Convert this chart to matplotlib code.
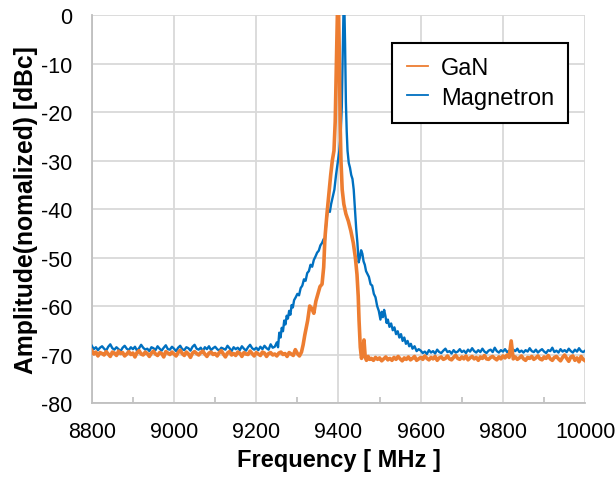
import numpy as np
import matplotlib
matplotlib.use("Agg")
import matplotlib.pyplot as plt
from matplotlib.ticker import MultipleLocator

plt.rcParams['font.family'] = ['Liberation Sans', 'DejaVu Sans']
plt.rcParams['axes.unicode_minus'] = False

# ---------------- data ----------------
# GaN: left noise floor (8800..9305 step 5)
gan_left_f = list(range(8800, 9310, 5))
gan_left_v = [-69.2, -69.9, -69.5, -70.3, -69.6, -69.8, -70.1, -69.4, -69.9, -70.4,
              -69.5, -69.7, -70.2, -69.3, -69.8, -69.6, -70.3, -69.9, -69.4, -70.0,
              -69.7, -70.5, -69.6, -69.2, -69.9, -70.1, -69.5, -69.8, -70.4, -69.7,
              -69.3, -69.9, -70.2, -69.6, -69.8, -70.5, -69.4, -69.7, -70.0, -69.5,
              -69.9, -70.3, -69.6, -69.1, -69.8, -70.2, -69.5, -69.9, -70.6, -69.7,
              -69.4, -69.8, -70.1, -69.6, -69.3, -69.9, -70.4, -69.7, -69.5, -70.0,
              -69.8, -70.3, -69.6, -69.2, -69.9, -70.5, -69.7, -69.4, -70.1, -69.8,
              -70.2, -69.5, -69.7, -70.4, -69.6, -69.9, -70.0, -69.3, -69.8, -70.3,
              -69.6, -69.9, -70.2, -69.5, -69.7, -70.4, -69.8, -69.6, -70.1, -69.9,
              -70.3, -69.7, -69.5, -70.0, -69.8, -70.4, -69.6, -69.9, -70.2, -69.0,
              -69.8, -70.3]
# GaN: peak region
gan_peak_f = [9310, 9314, 9318, 9325, 9330, 9335, 9340, 9345, 9350, 9355, 9360, 9364,
              9367, 9372, 9376, 9381, 9385, 9389, 9392, 9394, 9396, 9398, 9400, 9402,
              9404, 9406, 9409, 9413, 9418, 9424, 9430, 9436, 9441, 9445, 9448, 9450,
              9453, 9456, 9459, 9462, 9465, 9468, 9472, 9476]
gan_peak_v = [-69.5, -68.0, -66.0, -63.0, -60.0, -60.5, -61.5, -59.0, -57.5, -56.0, -55.5, -52.0,
              -46.0, -41.0, -37.5, -33.0, -30.0, -28.0, -22.0, -14.0, -5.0, 3.0, 2.0, -8.0,
              -22.0, -30.0, -36.0, -39.0, -41.0, -42.5, -44.5, -47.0, -50.0, -53.5, -58.0, -63.0,
              -68.5, -70.8, -69.5, -67.0, -70.5, -71.2, -70.4, -71.0]
# GaN: right noise floor (9480..10000 step 5)
gan_right_f = list(range(9480, 10005, 5))
gan_right_v = [-70.8, -71.2, -70.6, -71.0, -70.7, -71.3, -70.9, -70.5, -71.1, -70.8,
               -71.2, -70.6, -71.0, -70.4, -70.9, -71.3, -70.7, -71.0, -70.5, -71.1,
               -70.8, -70.4, -71.2, -70.9, -70.6, -71.0, -70.3, -70.8, -71.1, -70.6,
               -70.9, -70.4, -71.2, -70.7, -70.5, -71.0, -70.8, -70.3, -70.9, -71.1,
               -70.6, -70.2, -70.8, -71.0, -70.5, -70.9, -70.3, -71.1, -70.7, -70.4,
               -70.9, -70.6, -71.2, -70.5, -70.8, -70.2, -70.9, -71.0, -70.6, -70.4,
               -70.8, -71.1, -70.5, -70.9, -70.3, -70.7, -70.1, -70.6, -67.2, -70.9,
               -70.5, -71.0, -70.7, -70.3, -70.9, -71.2, -70.6, -70.8, -70.4, -71.0,
               -70.7, -70.3, -70.9, -71.1, -70.5, -70.8, -70.2, -70.9, -71.2, -70.6,
               -70.4, -70.9, -71.3, -70.6, -70.1, -70.8, -71.4, -70.5, -70.3, -71.2,
               -70.7, -71.5, -70.4, -71.0, -71.3]

# Magnetron: left noise floor (8800..9245 step 5)
mag_left_f = list(range(8800, 9250, 5))
mag_left_v = [-68.2, -68.9, -68.5, -69.1, -68.6, -68.3, -68.8, -69.2, -68.4, -67.9,
              -68.7, -69.0, -68.5, -68.9, -69.3, -68.6, -68.2, -68.8, -69.1, -68.5,
              -68.9, -68.4, -69.2, -68.7, -68.0, -68.6, -69.0, -68.8, -69.3, -68.5,
              -68.7, -69.1, -68.3, -68.8, -69.2, -68.6, -68.1, -68.9, -69.0, -68.4,
              -68.8, -69.3, -68.6, -68.2, -68.9, -69.1, -68.5, -68.7, -69.2, -68.4,
              -68.0, -68.8, -69.0, -68.6, -69.3, -68.5, -68.9, -68.3, -69.1, -68.7,
              -68.4, -68.9, -69.2, -68.6, -68.8, -69.0, -68.2, -68.7, -69.3, -68.5,
              -68.9, -68.6, -69.1, -68.3, -68.8, -69.2, -68.5, -68.0, -68.7, -69.0,
              -68.6, -69.1, -68.4, -68.9, -68.2, -68.7, -69.0, -67.9, -68.6, -68.4]
# Magnetron: peak region
mag_peak_f = [9250, 9253, 9256, 9259, 9262, 9265, 9268, 9271, 9274, 9277,
              9280, 9283, 9286, 9289, 9292, 9296, 9300, 9304, 9308, 9312,
              9316, 9320, 9324, 9328, 9332, 9336, 9340, 9344, 9348, 9352,
              9356, 9360, 9364, 9367, 9370, 9373, 9376, 9379, 9382, 9386,
              9390, 9394, 9398, 9402, 9405, 9408, 9410, 9412, 9414, 9416,
              9418, 9420, 9422, 9425, 9428, 9431, 9434, 9437, 9440, 9443,
              9446, 9449, 9452, 9455, 9458, 9461, 9464, 9467, 9470, 9474,
              9478, 9482, 9486, 9490, 9494, 9498, 9502, 9505, 9508, 9511,
              9514, 9517, 9520, 9524, 9528, 9532, 9536, 9540, 9544, 9548,
              9552, 9556, 9560, 9564, 9568, 9572, 9576, 9580, 9585, 9590,
              9595]
mag_peak_v = [-67.5, -68.5, -65.5, -66.5, -64.5, -65.2, -63.0, -63.8, -62.0, -62.6,
              -61.0, -61.8, -59.8, -60.3, -58.8, -58.2, -57.5, -57.8, -56.3, -55.8,
              -54.5, -54.8, -53.2, -52.8, -51.5, -51.9, -50.5, -49.8, -49.0, -48.6,
              -47.5, -47.0, -46.2, -46.5, -43.0, -40.8, -40.2, -40.6, -39.0, -37.5,
              -36.0, -33.0, -30.5, -28.0, -25.0, -19.0, -10.0, 0.0, 3.0, -6.0,
              -18.0, -24.0, -28.0, -30.5, -31.5, -33.0, -33.8, -36.0, -40.0, -44.0,
              -47.0, -51.0, -50.0, -48.5, -49.2, -50.8, -51.5, -52.8, -53.3, -54.0,
              -55.5, -55.8, -57.5, -58.2, -60.0, -61.0, -62.8, -61.2, -62.3, -60.8,
              -62.0, -63.5, -62.8, -64.3, -63.6, -65.0, -64.4, -65.8, -65.2, -66.5,
              -65.8, -67.2, -66.5, -67.8, -67.2, -68.3, -67.8, -68.8, -68.3, -69.3,
              -68.9]
# Magnetron: right noise floor (9600..10000 step 5)
mag_right_f = list(range(9600, 10005, 5))
mag_right_v = [-69.2, -69.7, -69.4, -69.9, -69.1, -69.6, -69.3, -69.8, -69.0, -69.5,
               -69.7, -69.2, -68.8, -69.5, -69.3, -69.8, -69.1, -69.6, -69.4, -68.9,
               -69.5, -69.2, -69.7, -69.0, -69.4, -68.7, -69.3, -69.6, -69.1, -69.5,
               -68.8, -69.4, -69.7, -69.2, -69.0, -69.5, -68.6, -69.3, -69.6, -69.1,
               -69.4, -68.9, -69.5, -69.2, -69.7, -69.0, -69.3, -68.8, -69.5, -69.2,
               -69.6, -69.1, -69.4, -68.7, -69.3, -69.5, -69.0, -69.6, -69.2, -68.9,
               -69.4, -69.7, -69.1, -69.3, -68.6, -69.5, -69.2, -69.6, -68.9, -69.4,
               -69.1, -69.5, -68.8, -69.3, -69.6, -69.0, -69.4, -68.7, -69.3, -69.5,
               -69.2]

series_names = ["GaN", "Magnetron"]
x_ticks = [8800, 9000, 9200, 9400, 9600, 9800, 10000]
y_ticks = [0, -10, -20, -30, -40, -50, -60, -70, -80]

gan_f = gan_left_f + gan_peak_f + gan_right_f
gan_v = gan_left_v + gan_peak_v + gan_right_v
mag_f = mag_left_f + mag_peak_f + mag_right_f
mag_v = mag_left_v + mag_peak_v + mag_right_v

# ---------------- plot ----------------
fig = plt.figure(figsize=(6.16, 4.85), dpi=100)
ax = fig.add_axes([0.149, 0.167, 0.801, 0.800])

grid_c = '#d9d9d9'
ax.plot(mag_f, mag_v, color='#0070C0', lw=1.7, label=series_names[1], zorder=3)
ax.plot(gan_f, gan_v, color='#ED7D31', lw=2.6, label=series_names[0], zorder=4)

ax.set_xlim(8800, 10000)
ax.set_ylim(-80, 0)
ax.set_xticks(x_ticks)
ax.set_yticks(y_ticks)
ax.xaxis.set_minor_locator(MultipleLocator(100))
ax.grid(True, which='major', color=grid_c, lw=1.3, zorder=0)
ax.set_axisbelow(True)
for s in ['top', 'right']:
    ax.spines[s].set_visible(False)
for s in ['left', 'bottom']:
    ax.spines[s].set_color('#bfbfbf')
    ax.spines[s].set_linewidth(1.3)
ax.tick_params(axis='both', which='major', length=0, labelsize=15.5, labelcolor='black')
ax.tick_params(axis='y', which='major', pad=14)
ax.tick_params(axis='x', which='major', pad=13)
ax.tick_params(axis='x', which='minor', direction='in', length=4, color='#bfbfbf', width=1.2)

ax.set_xlabel('Frequency [ MHz ]', fontsize=17, fontweight='bold', labelpad=4)
ax.set_ylabel('Amplitude(nomalized) [dBc]', fontsize=17.8, fontweight='bold', labelpad=2)

h, l = ax.get_legend_handles_labels()
leg = ax.legend([h[1], h[0]], [l[1], l[0]], loc='upper right', bbox_to_anchor=(0.9655, 0.928),
                fontsize=17, frameon=True, fancybox=False, handlelength=0.9,
                handletextpad=0.55, borderpad=0.6, labelspacing=0.32, borderaxespad=0.0)
leg.get_frame().set_edgecolor('black')
leg.get_frame().set_linewidth(1.5)
leg.get_frame().set_alpha(1)
for line in leg.get_lines():
    line.set_linewidth(1.3)
leg.set_zorder(10)

fig.savefig('out.png', dpi=100)
